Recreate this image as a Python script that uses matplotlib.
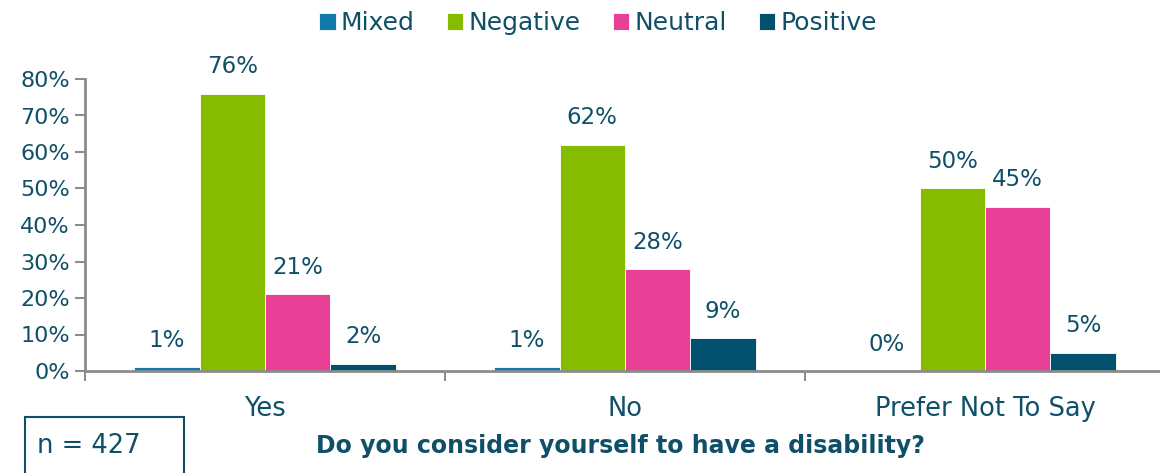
import numpy as np
import matplotlib
matplotlib.use("Agg")
import matplotlib.pyplot as plt
from matplotlib.patches import Rectangle

categories = ["Yes", "No", "Prefer Not To Say"]
series = ["Mixed", "Negative", "Neutral", "Positive"]
mixed = [0.01, 0.01, 0.00]
negative = [0.76, 0.62, 0.50]
neutral = [0.21, 0.28, 0.45]
positive = [0.02, 0.09, 0.05]
colors = ["#1279ac", "#86bc00", "#e84096", "#00506e"]

text_col = "#0f5068"
axis_col = "#8c8c8c"

plt.rcParams["font.family"] = ["DejaVu Sans"]

fig = plt.figure(figsize=(11.6, 4.73), dpi=100)
ax = fig.add_axes([85 / 1160, 102 / 473, 1080 / 1160, 292 / 473])

values = [mixed, negative, neutral, positive]
x = np.arange(len(categories))
bw = 1 / 5.5
for i, (name, vals, c) in enumerate(zip(series, values, colors)):
    offs = (i - 1.5) * bw
    ax.bar(x + offs, vals, width=bw, color=c, label=name,
           edgecolor="white", linewidth=0.6)
    for xi, v in zip(x + offs, vals):
        ax.annotate(f"{v:.0%}", (xi, v), xytext=(0, 11), textcoords="offset points",
                    ha="center", va="bottom", fontsize=16.5, color=text_col)

ax.set_xlim(-0.5, 2.5)
ax.set_ylim(0, 0.8)
ticks = np.arange(0, 0.81, 0.1)
ax.set_yticks(ticks)
ax.set_yticklabels([f"{int(round(t * 100))}%" for t in ticks])
ax.set_xticks(x)
ax.set_xticklabels(categories)
ax.set_xticks([-0.5, 0.5, 1.5, 2.5], minor=True)
ax.tick_params(axis="x", which="major", length=0, pad=18, labelsize=18.5, labelcolor=text_col)
ax.tick_params(axis="x", which="minor", length=7, width=1.5, color=axis_col)
ax.tick_params(axis="y", length=7, width=1.5, color=axis_col, labelsize=16,
               labelcolor=text_col, pad=4)
for s in ["top", "right"]:
    ax.spines[s].set_visible(False)
for s in ["left", "bottom"]:
    ax.spines[s].set_color(axis_col)
    ax.spines[s].set_linewidth(2)

leg = fig.legend(loc="upper center", bbox_to_anchor=(598 / 1160, 1.024), ncol=4,
                 frameon=False, fontsize=18, handlelength=0.65, handleheight=0.65,
                 handletextpad=0.2, columnspacing=1.3)
for t in leg.get_texts():
    t.set_color(text_col)

fig.text(620 / 1160, 1 - 446 / 473, "Do you consider yourself to have a disability?",
         ha="center", va="center", fontsize=17, fontweight="bold", color=text_col)

fig.patches.append(Rectangle((25 / 1160, -0.05), 159 / 1160, (473 - 417) / 473 + 0.05,
                             transform=fig.transFigure, fill=False,
                             edgecolor=text_col, linewidth=1.5))
fig.text(37 / 1160, 1 - 446 / 473, "n = 427", ha="left", va="center",
         fontsize=18.5, color=text_col)

fig.savefig("out.png", dpi=100)
